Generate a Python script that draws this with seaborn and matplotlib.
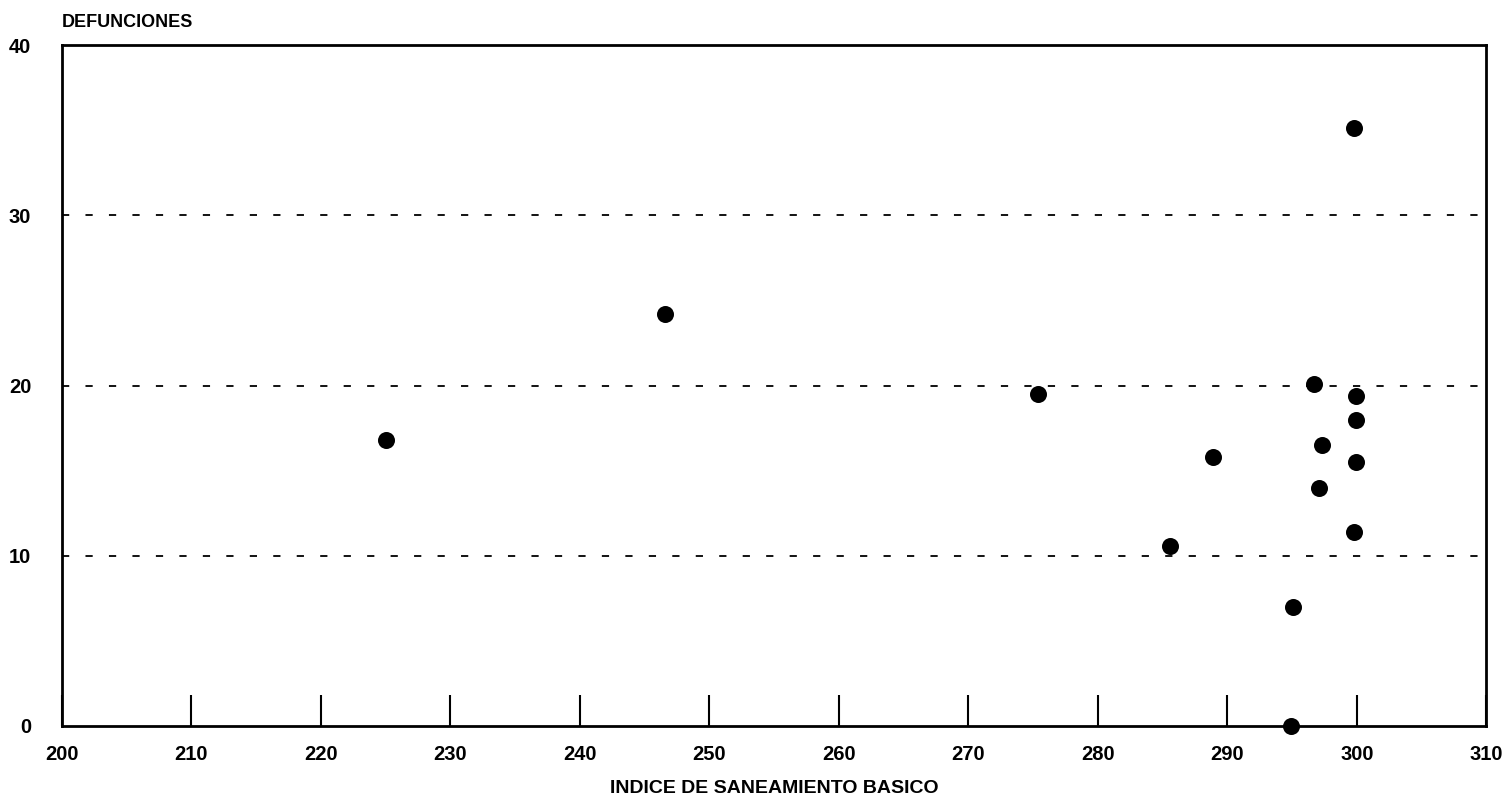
import matplotlib
matplotlib.use("Agg")
import matplotlib.pyplot as plt
import seaborn as sns
import pandas as pd

# Data
indice = [225.0, 246.6, 275.4, 285.6, 288.9, 294.9, 295.1, 296.7, 297.3, 297.1,
          299.8, 299.9, 299.9, 299.9, 299.8]
defunciones = [16.8, 24.2, 19.5, 10.6, 15.8, 0.0, 7.0, 20.1, 16.5, 14.0,
               35.1, 19.4, 18.0, 15.5, 11.4]
x_ticks = [200, 210, 220, 230, 240, 250, 260, 270, 280, 290, 300, 310]
y_ticks = [0, 10, 20, 30, 40]

df = pd.DataFrame({"INDICE DE SANEAMIENTO BASICO": indice, "DEFUNCIONES": defunciones})

sns.set_theme(style="white")
plt.rcParams['font.family'] = ['Liberation Sans', 'DejaVu Sans']
plt.rcParams['text.color'] = 'black'
plt.rcParams['xtick.color'] = 'black'
plt.rcParams['ytick.color'] = 'black'
plt.rcParams['axes.labelcolor'] = 'black'

fig = plt.figure(figsize=(15.09, 8.02), dpi=100)
ax = fig.add_axes([0.041, 0.0948, 0.944, 0.849])

for yv in [10, 20, 30]:
    ax.axhline(yv, color="black", lw=1.3, linestyle=(0, (4, 9)), zorder=1)

sns.scatterplot(data=df, x="INDICE DE SANEAMIENTO BASICO", y="DEFUNCIONES", ax=ax,
                color="black", s=150, edgecolor="black", linewidth=0, zorder=3,
                clip_on=False)

ax.set_xlim(200, 310)
ax.set_ylim(0, 40)
ax.set_xticks(x_ticks)
ax.set_yticks(y_ticks)
ax.set_xticklabels([str(v) for v in x_ticks], fontsize=14.5, fontweight="bold")
ax.set_yticklabels([str(v) for v in y_ticks], fontsize=14.5, fontweight="bold")
ax.tick_params(axis="x", direction="in", length=22, width=1.5, pad=14, bottom=True)
ax.tick_params(axis="y", direction="in", length=0, pad=22, left=True)

for sp in ax.spines.values():
    sp.set_color("black")
    sp.set_linewidth(2)

ax.set_ylabel("")
ax.set_xlabel("INDICE DE SANEAMIENTO BASICO", fontsize=14, fontweight="bold", labelpad=11)
fig.text(0.041, 0.972, "DEFUNCIONES", fontsize=13, fontweight="bold", ha="left", va="center")

fig.savefig("out.png", dpi=100, facecolor="white")
